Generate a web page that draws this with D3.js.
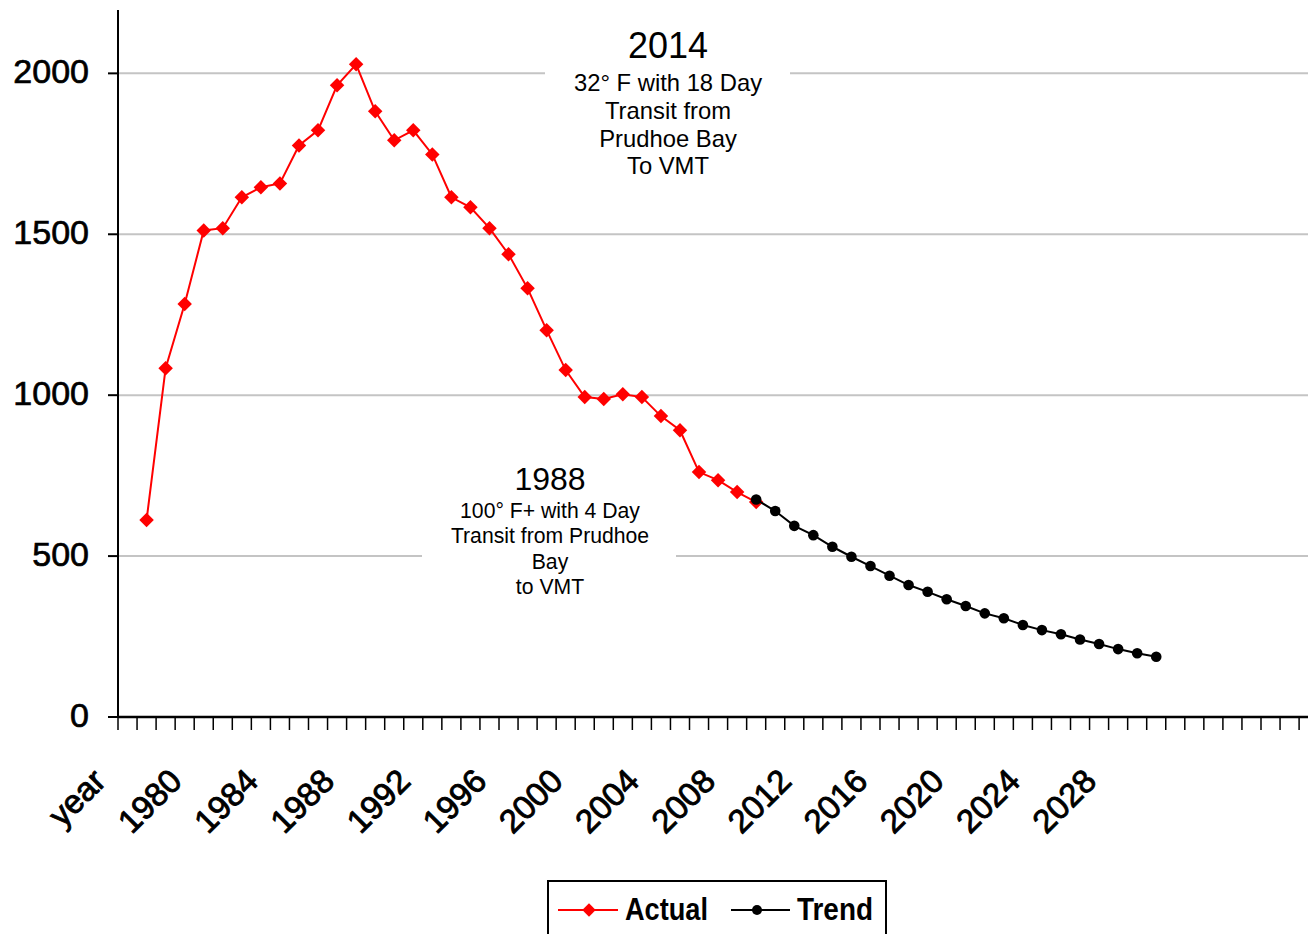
<!DOCTYPE html>
<html lang="en">
<head>
  <meta charset="UTF-8" />
  <title>Throughput: Actual and Trend</title>
  <style>
    body { margin: 0; background: #fff; }
    svg { display: block; font-family: 'Liberation Sans', Arial, sans-serif; }
    .grid line { stroke: #c4c4c4; stroke-width: 2px; }
    .note text { fill: #000; text-anchor: middle; }
    .legend text { font-family: 'Liberation Sans', Arial, sans-serif; font-weight: bold; font-size: 32px; }
  </style>
</head>
<body>
  <svg id="chart" width="1308" height="934"></svg>

  <script src="https://d3js.org/d3.v7.min.js"></script>
  <script>
    // categories on the x axis: a "year" slot, then one slot per year
    const firstYear = 1977, lastYear = 2038;
    const categories = ["year"].concat(d3.range(firstYear, lastYear + 1).map(String));
    const tickLabels = ["year", "1980", "1984", "1988", "1992", "1996", "2000", "2004",
                        "2008", "2012", "2016", "2020", "2024", "2028"];
    const yTicks = [0, 500, 1000, 1500, 2000];

    // actual throughput, 1977 - 2009
    const actualStart = 1977;
    const actualValues = [612, 1084, 1283, 1512, 1519, 1615, 1646, 1658, 1776, 1823,
                          1963, 2028, 1882, 1792, 1823, 1748, 1615, 1584, 1519, 1438,
                          1332, 1202, 1078, 994, 988, 1003, 994, 935, 891, 761,
                          736, 699, 668];

    // trend, 2009 - 2030
    const trendStart = 2009;
    const trendValues = [676, 640, 594, 565, 529, 498, 469, 439, 410, 389,
                         366, 345, 322, 307, 286, 270, 257, 241, 227, 211,
                         198, 187];

    const notes = [
      { title: "2014", lines: ["32° F with 18 Day", "Transit from", "Prudhoe Bay", "To VMT"] },
      { title: "1988", lines: ["100° F+ with 4 Day", "Transit from Prudhoe", "Bay", "to VMT"] }
    ];

    const svg = d3.select("#chart");
    const plotLeft = 118, plotBottom = 717, plotTop = 9;
    const step = 19.05;

    const x = d3.scaleBand().domain(categories)
      .range([plotLeft, plotLeft + step * categories.length]).padding(0);
    const y = d3.scaleLinear().domain([0, 2200]).range([plotBottom, plotTop]);
    const cx = c => x(c) + x.bandwidth() / 2;

    // gridlines
    svg.append("g").attr("class", "grid")
      .selectAll("line").data(yTicks.filter(v => v > 0)).join("line")
      .attr("x1", plotLeft).attr("x2", 1308)
      .attr("y1", d => y(d)).attr("y2", d => y(d));

    // annotation boxes (white backgrounds break the gridlines)
    const noteG = svg.append("g").attr("class", "note");
    const note2014 = notes[0], note1988 = notes[1];
    noteG.append("rect").attr("x", 545).attr("y", 25)
      .attr("width", 245).attr("height", 160).attr("fill", "#fff");
    noteG.append("text").attr("x", 668).attr("y", 58).attr("font-size", 36).text(note2014.title);
    note2014.lines.forEach((l, i) => {
      noteG.append("text").attr("x", 668).attr("y", 91 + i * 27.8).attr("font-size", 23.8).text(l);
    });
    noteG.append("rect").attr("x", 422).attr("y", 462)
      .attr("width", 254).attr("height", 140).attr("fill", "#fff");
    noteG.append("text").attr("x", 550).attr("y", 490).attr("font-size", 32).text(note1988.title);
    note1988.lines.forEach((l, i) => {
      noteG.append("text").attr("x", 550).attr("y", 518 + i * 25.3).attr("font-size", 21.2).text(l);
    });

    // y axis
    const yAxis = svg.append("g");
    yAxis.append("line").attr("x1", plotLeft).attr("x2", plotLeft)
      .attr("y1", plotTop + 1).attr("y2", plotBottom).attr("stroke", "#000").attr("stroke-width", 2);
    yAxis.selectAll("line.tick").data(yTicks).join("line").attr("class", "tick")
      .attr("x1", plotLeft - 10).attr("x2", plotLeft)
      .attr("y1", d => y(d)).attr("y2", d => y(d))
      .attr("stroke", "#000").attr("stroke-width", 2);
    yAxis.selectAll("text").data(yTicks).join("text")
      .attr("x", 89).attr("y", d => y(d) - 2).attr("dy", "0.35em")
      .attr("text-anchor", "end").attr("font-size", 34)
      .attr("stroke", "#000").attr("stroke-width", 0.7)
      .text(d => d);

    // x axis
    const xAxis = svg.append("g");
    xAxis.append("line").attr("x1", plotLeft).attr("x2", 1308)
      .attr("y1", plotBottom).attr("y2", plotBottom).attr("stroke", "#000").attr("stroke-width", 2.5);
    xAxis.selectAll("line.tick").data(categories).join("line").attr("class", "tick")
      .attr("x1", d => x(d)).attr("x2", d => x(d))
      .attr("y1", plotBottom).attr("y2", plotBottom + 13)
      .attr("stroke", "#000").attr("stroke-width", 1.5);
    xAxis.selectAll("text").data(tickLabels).join("text")
      .attr("transform", d => `translate(${cx(d) - 20},${plotBottom + 66}) rotate(-45)`)
      .attr("text-anchor", "end").attr("font-size", 33)
      .attr("stroke", "#000").attr("stroke-width", 0.9)
      .text(d => d);

    // series
    const actual = actualValues.map((v, i) => ({ c: String(actualStart + i), v }));
    const trend = trendValues.map((v, i) => ({ c: String(trendStart + i), v }));
    const line = d3.line().x(d => cx(d.c)).y(d => y(d.v));

    svg.append("path").datum(actual).attr("d", line)
      .attr("fill", "none").attr("stroke", "#ff0000").attr("stroke-width", 2);
    svg.append("g").selectAll("path").data(actual).join("path")
      .attr("d", d3.symbol(d3.symbolSquare, 105))
      .attr("transform", d => `translate(${cx(d.c)},${y(d.v)}) rotate(45)`)
      .attr("fill", "#ff0000");

    svg.append("path").datum(trend).attr("d", line)
      .attr("fill", "none").attr("stroke", "#000").attr("stroke-width", 2);
    svg.append("g").selectAll("circle").data(trend).join("circle")
      .attr("cx", d => cx(d.c)).attr("cy", d => y(d.v)).attr("r", 5.3)
      .attr("fill", "#000");

    // legend
    const lg = svg.append("g").attr("class", "legend");
    lg.append("rect").attr("x", 548).attr("y", 881).attr("width", 338).attr("height", 70)
      .attr("fill", "#fff").attr("stroke", "#000").attr("stroke-width", 2);
    lg.append("line").attr("x1", 558).attr("x2", 618).attr("y1", 910).attr("y2", 910)
      .attr("stroke", "#ff0000").attr("stroke-width", 2);
    lg.append("path").attr("d", d3.symbol(d3.symbolSquare, 90))
      .attr("transform", "translate(589,910) rotate(45)").attr("fill", "#ff0000");
    lg.append("text").attr("x", 625).attr("y", 920)
      .attr("textLength", 83).attr("lengthAdjust", "spacingAndGlyphs").text("Actual");
    lg.append("line").attr("x1", 731).attr("x2", 790).attr("y1", 910).attr("y2", 910)
      .attr("stroke", "#000").attr("stroke-width", 2);
    lg.append("circle").attr("cx", 757).attr("cy", 910).attr("r", 5).attr("fill", "#000");
    lg.append("text").attr("x", 797).attr("y", 920)
      .attr("textLength", 76).attr("lengthAdjust", "spacingAndGlyphs").text("Trend");
  </script>
</body>
</html>
